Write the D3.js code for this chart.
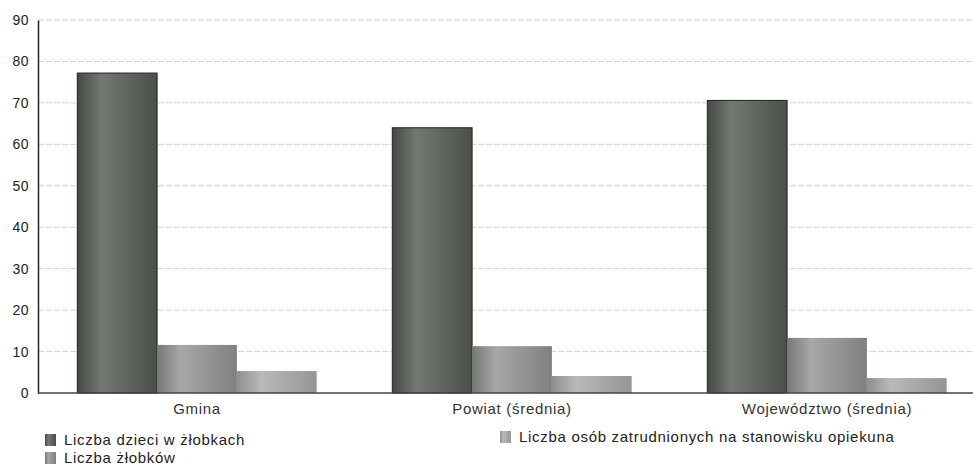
<!DOCTYPE html>
<html><head><meta charset="utf-8">
<script src="https://cdn.jsdelivr.net/npm/d3@7"></script>
<style>body{margin:0;background:#fff;font-family:"Liberation Sans",Arial,sans-serif;}</style>
</head><body>
<svg id="c" width="973" height="466"></svg>
<script>
const categories = ["Gmina", "Powiat (średnia)", "Województwo (średnia)"];
const seriesNames = ["Liczba dzieci w żłobkach", "Liczba żłobków", "Liczba osób zatrudnionych na stanowisku opiekuna"];
const dzieci = [77.2, 64, 70.6];
const zlobki = [11.6, 11.3, 13.3];
const opiekunowie = [5.3, 4.1, 3.6];
const yTicks = [0, 10, 20, 30, 40, 50, 60, 70, 80, 90];

const series = [dzieci, zlobki, opiekunowie];
const colors = [["#444944", "#737873", "#4a4f4a"], ["#767876", "#a6a8a6", "#7f817f"], ["#8e908e", "#b8bab8", "#949694"]];

const svg = d3.select("#c");
const m = {l: 38, t: 20, b: 73};
const W = 973, H = 466;
const x0 = d3.scaleBand().domain(categories).range([39.5, 984.5]).paddingInner(0.24).paddingOuter(0.12);
const x1 = d3.scaleBand().domain(d3.range(3)).range([0, x0.bandwidth()]);
const y = d3.scaleLinear().domain([0, 90]).range([H - m.b, m.t]);

const defs = svg.append("defs");
colors.forEach((c, i) => {
  const g = defs.append("linearGradient").attr("id", "g" + i).attr("x1", "0").attr("x2", "1").attr("y1", "0").attr("y2", "0");
  g.append("stop").attr("offset", "0").attr("stop-color", c[0]);
  g.append("stop").attr("offset", "0.3").attr("stop-color", c[1]);
  g.append("stop").attr("offset", "1").attr("stop-color", c[2]);
});

const font = "Liberation Sans, Arial, sans-serif";

// gridlines
svg.append("g").selectAll("line").data(yTicks.filter(d => d > 0)).join("line")
  .attr("x1", m.l).attr("x2", W).attr("y1", d => y(d)).attr("y2", d => y(d))
  .attr("stroke", "#d2d2d2").attr("stroke-width", 1).attr("stroke-dasharray", "6,2");

// y axis
const ya = svg.append("g").attr("transform", `translate(${m.l},0)`)
  .call(d3.axisLeft(y).tickValues(yTicks).tickSize(0).tickPadding(9));
ya.select(".domain").attr("stroke", "#222").attr("stroke-width", 1.5);
ya.selectAll("text").attr("font-size", 14).attr("letter-spacing", 0.5).attr("fill", "#222").attr("font-family", font);

// bars
categories.forEach((cat, ci) => {
  series.forEach((s, si) => {
    svg.append("rect")
      .attr("x", x0(cat) + x1(si)).attr("width", x1.bandwidth())
      .attr("y", y(s[ci])).attr("height", y(0) - y(s[ci]))
      .attr("fill", `url(#g${si})`)
      .attr("stroke", si === 0 ? "#222" : "none").attr("stroke-width", 1);
  });
});

// x axis
const xa = svg.append("g").attr("transform", `translate(0,${y(0)})`)
  .call(d3.axisBottom(x0).tickSize(0).tickPadding(10));
xa.select(".domain").attr("stroke", "#444").attr("stroke-width", 1.5).attr("d", `M${m.l},0H${W}`);
xa.selectAll("text").attr("font-size", 15).attr("letter-spacing", 0.7).attr("fill", "#333").attr("font-family", font);

// legend
const legendPos = [[45, 440], [45, 458], [500, 437]];
seriesNames.forEach((n, i) => {
  const [lx, ly] = legendPos[i];
  svg.append("rect").attr("x", lx).attr("y", ly - 6).attr("width", 11).attr("height", 12).attr("fill", `url(#g${i})`);
  svg.append("text").attr("x", lx + 19).attr("y", ly + 5).attr("font-size", 15).attr("letter-spacing", 0.7)
    .attr("fill", "#222").attr("font-family", font).text(n);
});
</script>
</body></html>
